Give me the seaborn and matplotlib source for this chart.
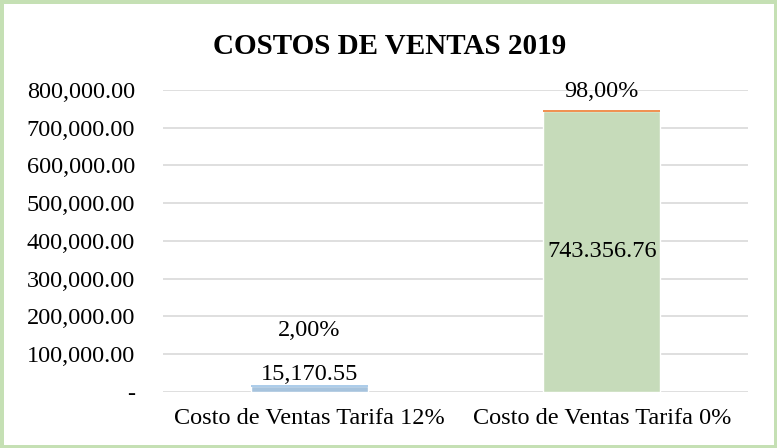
import matplotlib
matplotlib.use("Agg")
import matplotlib.pyplot as plt
import seaborn as sns
from matplotlib.ticker import FuncFormatter

categorias = ["Costo de Ventas Tarifa 12%", "Costo de Ventas Tarifa 0%"]
costos = [15170.55, 743356.76]
porcentajes = [0.02, 0.98]
etiquetas_valor = ["15,170.55", "743.356.76"]
etiquetas_pct = ["2,00%", "98,00%"]

colores = ["#9DC3E6", "#C5E0B4"]

sns.set_style("white")
plt.rcParams["font.family"] = ["Liberation Serif", "DejaVu Serif"]
plt.rcParams["text.color"] = "black"
plt.rcParams["xtick.color"] = "black"
plt.rcParams["ytick.color"] = "black"

fig = plt.figure(figsize=(7.77, 4.48), dpi=100)
fig.patch.set_edgecolor("#C5E0B4")
fig.patch.set_linewidth(5)
ax = fig.add_axes([0.2098, 0.1257, 0.7529, 0.6734])

sns.barplot(x=categorias, y=costos, hue=categorias, palette=colores,
            width=0.4, legend=False, ax=ax, zorder=2)
# serie de porcentajes apilada (casi invisible, solo el borde)
ax.bar([0, 1], porcentajes, bottom=costos, width=0.4,
       color="#ED7D31", edgecolor=["#9DC3E6", "#ED7D31"], linewidth=1.2, zorder=3)

ax.set_xlim(-0.5, 1.5)
ax.set_ylim(0, 800000)
ax.set_yticks(range(0, 800001, 100000))
ax.yaxis.set_major_formatter(FuncFormatter(lambda v, p: "-" if v == 0 else f"{v:,.2f}"))
ax.grid(axis="y", color="#D9D9D9", linewidth=1.2, zorder=0)
ax.set_axisbelow(True)
for s in ax.spines.values():
    s.set_visible(False)
ax.tick_params(axis="y", length=0, pad=20, labelsize=17.5)
ax.tick_params(axis="x", length=0, pad=12, labelsize=17.5)
ax.set_xlabel("")
ax.set_ylabel("")

# etiquetas
fs = 17.5
ax.annotate(etiquetas_valor[0], (0, costos[0]), xytext=(0, 8), textcoords="offset points",
            ha="center", va="center", fontsize=fs)
ax.annotate(etiquetas_pct[0], (0, costos[0]), xytext=(0, 40), textcoords="offset points",
            ha="center", va="center", fontsize=fs)
ax.text(1, costos[1] / 2, etiquetas_valor[1], ha="center", va="center", fontsize=fs)
ax.annotate(etiquetas_pct[1], (1, costos[1]), xytext=(0, 14), textcoords="offset points",
            ha="center", va="center", fontsize=fs)

fig.text(0.502, 0.897, "COSTOS DE VENTAS 2019", ha="center", va="center",
         fontsize=21, fontweight="bold")

fig.savefig("out.png", dpi=100, edgecolor=fig.get_edgecolor())
